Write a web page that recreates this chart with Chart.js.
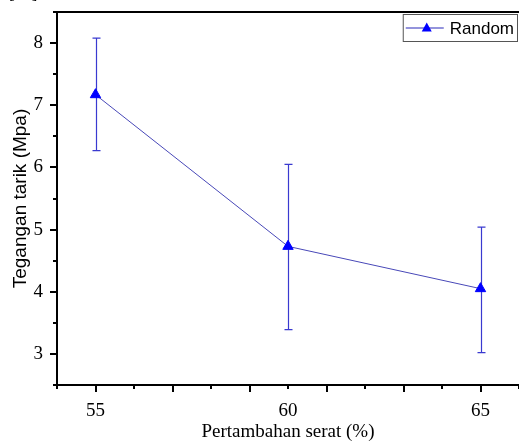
<!DOCTYPE html>
<html>
<head>
<meta charset="utf-8">
<script src="https://cdn.jsdelivr.net/npm/chart.js@4.4.0/dist/chart.umd.min.js"></script>
<style>
  body { margin: 0; background: #fff; }
</style>
</head>
<body>
<canvas id="chart" width="519" height="441"></canvas>
<script>
// data
const fiberContent = [55, 60, 65];
const tensileStrength = [7.17, 4.73, 4.05];
const errorHigh = [8.08, 6.05, 5.04];
const errorLow = [6.27, 3.39, 3.02];
const xTickLabels = [55, 60, 65];
const yTickLabels = [3, 4, 5, 6, 7, 8];
const seriesName = 'Random';

const serif = '"Liberation Serif", "Times New Roman", serif';
const sans = '"Liberation Sans", Arial, sans-serif';

// error bars, drawn under the markers
const errorBars = {
  id: 'errorBars',
  beforeDatasetsDraw(chart) {
    const ctx = chart.ctx;
    const x = chart.scales.x, y = chart.scales.y;
    ctx.save();
    ctx.strokeStyle = '#3a3ad0';
    ctx.lineWidth = 1.2;
    fiberContent.forEach((v, i) => {
      const px = Math.round(x.getPixelForValue(v)) + 0.5;
      const top = y.getPixelForValue(errorHigh[i]);
      const bot = y.getPixelForValue(errorLow[i]);
      ctx.beginPath();
      ctx.moveTo(px, top); ctx.lineTo(px, bot);
      ctx.moveTo(px - 4, top); ctx.lineTo(px + 4, top);
      ctx.moveTo(px - 4, bot); ctx.lineTo(px + 4, bot);
      ctx.stroke();
    });
    ctx.restore();
  }
};

// frame, tick marks and legend box in the Origin style
const frame = {
  id: 'frame',
  afterDraw(chart) {
    const ctx = chart.ctx;
    const a = chart.chartArea;
    const x = chart.scales.x, y = chart.scales.y;
    ctx.save();
    ctx.strokeStyle = '#000';
    ctx.lineWidth = 2;
    ctx.beginPath();
    ctx.moveTo(a.left - 1, a.top); ctx.lineTo(a.right, a.top);
    ctx.stroke();

    // x ticks: odd values long, even values short
    for (let v = Math.ceil(x.min); v <= x.max; v++) {
      const px = Math.round(x.getPixelForValue(v));
      const len = v % 2 === 1 ? 7 : 4;
      ctx.beginPath();
      ctx.moveTo(px, a.bottom); ctx.lineTo(px, a.bottom + len);
      ctx.stroke();
    }
    // y ticks: integers long, halves short
    for (let v = y.min; v <= y.max + 0.001; v += 0.5) {
      const py = Math.round(y.getPixelForValue(v));
      const len = Number.isInteger(v) ? 7 : 4;
      ctx.beginPath();
      ctx.moveTo(a.left, py); ctx.lineTo(a.left - len, py);
      ctx.stroke();
    }

    // legend
    const ds = chart.data.datasets[0];
    ctx.font = '17px ' + sans;
    const tw = ctx.measureText(ds.label).width;
    const w = 48 + tw + 2, h = 27;
    const lx = a.right - 2 - w, ly = a.top + 2;
    ctx.lineWidth = 1;
    ctx.strokeStyle = '#555';
    ctx.strokeRect(lx + 0.5, ly + 0.5, w, h);
    const cy = ly + h / 2 + 0.5;
    ctx.strokeStyle = '#7070d0';
    ctx.lineWidth = 1.5;
    ctx.beginPath();
    ctx.moveTo(lx + 3, cy); ctx.lineTo(lx + 41, cy);
    ctx.stroke();
    ctx.fillStyle = ds.pointBackgroundColor;
    ctx.beginPath();
    ctx.moveTo(lx + 24, cy - 5.5);
    ctx.lineTo(lx + 29, cy + 3.5);
    ctx.lineTo(lx + 19, cy + 3.5);
    ctx.closePath();
    ctx.fill();
    ctx.fillStyle = '#000';
    ctx.textBaseline = 'middle';
    ctx.fillText(ds.label, lx + 47, cy + 1);

    // clipped caption bracket at the top left
    ctx.font = '17px ' + serif;
    ctx.textBaseline = 'alphabetic';
    ctx.fillText('[    ]', 9, -1);
    ctx.restore();
  }
};

new Chart(document.getElementById('chart'), {
  type: 'line',
  data: {
    datasets: [{
      label: seriesName,
      data: fiberContent.map((v, i) => ({ x: v, y: tensileStrength[i] })),
      borderColor: '#4848b8',
      borderWidth: 1,
      pointStyle: 'triangle',
      pointRadius: 6,
      pointBackgroundColor: '#0000ff',
      pointBorderColor: '#0000ff',
      pointBorderWidth: 1,
      tension: 0
    }]
  },
  options: {
    responsive: false,
    animation: false,
    layout: { autoPadding: false, padding: { top: 12, right: 0, left: 0, bottom: 0 } },
    plugins: { legend: { display: false }, tooltip: { enabled: false } },
    scales: {
      x: {
        type: 'linear',
        min: 54,
        max: 66,
        afterFit(scale) {
          scale.height = 56;
          scale.paddingLeft = 0;
          scale.paddingRight = 0;
        },
        grid: { display: false, drawTicks: false, tickLength: 0 },
        border: { display: true, color: '#000', width: 2 },
        ticks: {
          stepSize: 1,
          autoSkip: false,
          maxRotation: 0,
          padding: 15,
          color: '#000',
          font: { family: serif, size: 19 },
          callback: v => xTickLabels.includes(v) ? String(v) : ''
        },
        title: {
          display: true,
          text: 'Pertambahan serat (%)',
          color: '#000',
          padding: { top: 0, bottom: -2 },
          font: { family: serif, size: 19 }
        }
      },
      y: {
        min: 2.5,
        max: 8.5,
        afterFit(scale) {
          scale.width = 57;
          scale.paddingTop = 0;
          scale.paddingBottom = 0;
        },
        grid: { display: false, drawTicks: false, tickLength: 0 },
        border: { display: true, color: '#000', width: 2 },
        ticks: {
          stepSize: 0.5,
          autoSkip: false,
          padding: 14,
          color: '#000',
          font: { family: serif, size: 19 },
          callback: v => yTickLabels.includes(v) ? String(v) : ''
        },
        title: {
          display: true,
          text: 'Tegangan tarik (Mpa)',
          color: '#000',
          padding: { top: 9, bottom: 0 },
          font: { family: sans, size: 19 }
        }
      }
    }
  },
  plugins: [errorBars, frame]
});
</script>
</body>
</html>
